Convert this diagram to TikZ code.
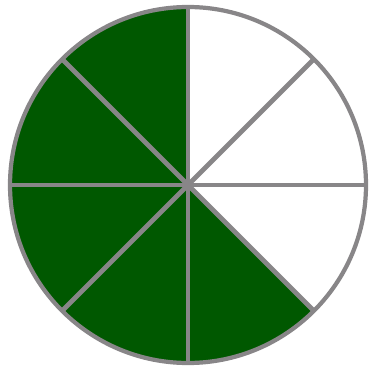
\documentclass[tikz,border=0pt]{standalone}
\usepackage{xcolor}
\usepackage{tikz}

\definecolor{pieGreen}{RGB}{0,88,0}
\definecolor{pieGray}{RGB}{136,134,136}

\begin{document}
\begin{tikzpicture}[
  x=0.01cm, y=-0.01cm,
  slice/.style={fill=pieGreen, draw=none},
  spoke/.style={draw=pieGray, line width=1.4pt},
  rim/.style={draw=pieGray, line width=1.2pt}
]
\useasboundingbox (0,0) rectangle (372,373);
% ── centre ─────────────────────────────────────
\coordinate (o) at (188,185);
% ── filled slices (5 of 8) ─────────────────────
\foreach \a in {90,135,180,225,270}
  \fill[slice] (o) -- ++({-\a}:178) arc[start angle=-\a, end angle={-\a-45}, radius=178] -- cycle;
% ── spokes ─────────────────────────────────────
\foreach \a in {0,45,...,315}
  \draw[spoke] (o) -- ++(\a:178);
% ── rim ────────────────────────────────────────
\draw[rim] (o) circle[radius=178];
\end{tikzpicture}
\end{document}
